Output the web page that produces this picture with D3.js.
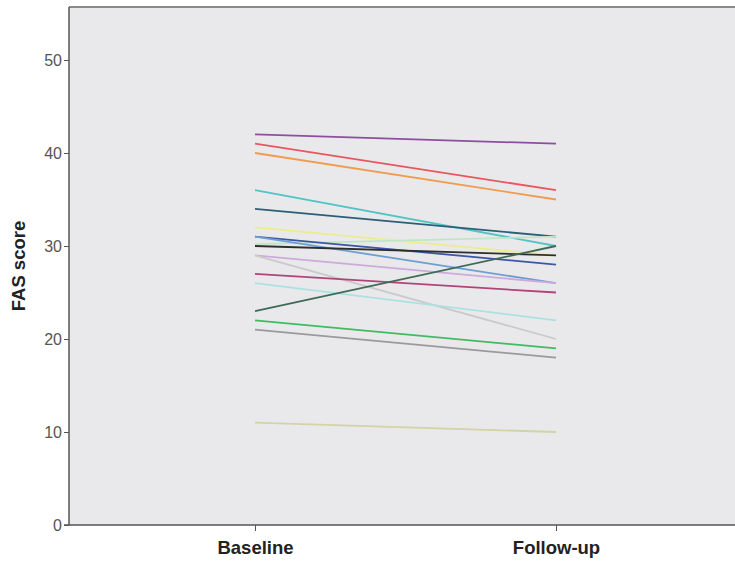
<!DOCTYPE html>
<html>
<head>
<meta charset="utf-8">
<script src="https://cdn.jsdelivr.net/npm/d3@7"></script>
<style>
  body { margin: 0; background: #fff; }
  svg { display: block; font-family: "Liberation Sans", Arial, sans-serif; }
</style>
</head>
<body>
<svg id="chart" width="735" height="565"></svg>
<script>
const timepoints = ['Baseline', 'Follow-up'];
const yTicks = [0, 10, 20, 30, 40, 50];

// baseline / follow-up score for each subject
const baseline = [42, 41, 40, 36, 34, 32, 30.2, 31, 31, 30, 29, 29, 27, 26, 23, 22, 21, 11];
const followup = [41, 36, 35, 30, 31, 29, 31, 28, 26, 29, 26, 20, 25, 22, 30, 19, 18, 10];
const colors = ['#8d4e9f', '#e9565d', '#f39b4c', '#52c4c4', '#2e5d78', '#ecec8a', '#bfe6c4',
  '#3d56a6', '#6f9fd2', '#2e2e2e', '#cfa9dc', '#cacaca', '#b14379', '#abe1e1',
  '#3f6a56', '#3fbb60', '#9a9a9a', '#d3d3a4'];

const svg = d3.select('#chart');
const plotLeft = 69, plotRight = 735, plotTop = 7, plotBottom = 525;

const x = d3.scalePoint().domain(timepoints).range([255, 556]);
const y = d3.scaleLinear().domain([0, 50]).range([plotBottom, 60]);

svg.append('rect')
  .attr('x', plotLeft).attr('y', plotTop)
  .attr('width', plotRight - plotLeft).attr('height', plotBottom - plotTop)
  .attr('fill', '#e9e9ec');

svg.append('line')
  .attr('x1', plotLeft).attr('x2', plotRight).attr('y1', plotTop).attr('y2', plotTop)
  .attr('stroke', '#8a8a8a').attr('stroke-width', 2);

const lines = svg.append('g');
baseline.forEach(function (b, i) {
  lines.append('line')
    .attr('x1', x('Baseline')).attr('y1', y(b))
    .attr('x2', x('Follow-up')).attr('y2', y(followup[i]))
    .attr('stroke', colors[i])
    .attr('stroke-width', 1.8);
});

const yAxis = svg.append('g')
  .attr('transform', 'translate(' + plotLeft + ',0)')
  .call(d3.axisLeft(y).tickValues(yTicks).tickSize(5).tickPadding(2));
yAxis.select('.domain').attr('d', 'M0,' + plotTop + 'V' + plotBottom);

const xAxis = svg.append('g')
  .attr('transform', 'translate(0,' + plotBottom + ')')
  .call(d3.axisBottom(x).tickSize(6).tickPadding(10));
xAxis.select('.domain').attr('d', 'M' + (plotLeft - 5) + ',0H' + plotRight);

svg.selectAll('.domain').attr('stroke', '#555').attr('stroke-width', 1.5);
svg.selectAll('.tick line').attr('stroke', '#555');
yAxis.selectAll('.tick text').attr('font-size', 16).attr('fill', '#555');
xAxis.selectAll('.tick text')
  .attr('font-size', 18.5).attr('font-weight', 'bold').attr('fill', '#222');

svg.append('text')
  .attr('transform', 'translate(25,' + (plotBottom + plotTop) / 2 + ') rotate(-90)')
  .attr('text-anchor', 'middle')
  .attr('font-size', 18.5).attr('font-weight', 'bold').attr('fill', '#222')
  .text('FAS score');
</script>
</body>
</html>
